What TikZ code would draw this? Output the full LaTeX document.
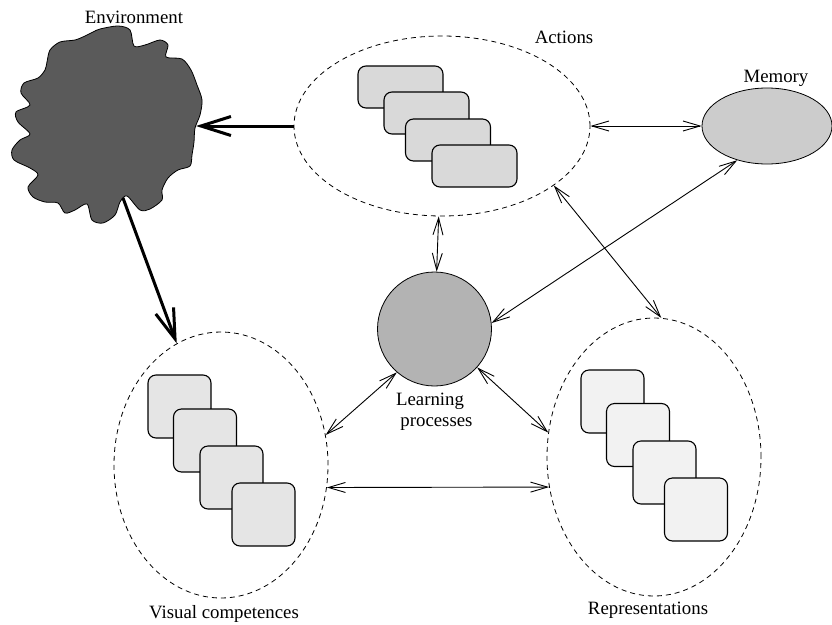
\documentclass[tikz,border=0pt]{standalone}
\usepackage{fontspec}
\setmainfont{Liberation Serif}
\usetikzlibrary{shapes.geometric,arrows.meta}
\definecolor{envgray}{HTML}{5A5A5A}
\definecolor{actgray}{HTML}{D9D9D9}
\definecolor{visgray}{HTML}{E5E5E5}
\definecolor{repgray}{HTML}{F2F2F2}
\definecolor{memgray}{HTML}{CCCCCC}
\definecolor{learngray}{HTML}{B3B3B3}

\begin{document}
\begin{tikzpicture}[x=1pt, y=-1pt, every node/.style={align=center, font=\fontsize{18.8}{21}\selectfont}]
        % styles
        \tikzstyle{group} = [ellipse, draw=black, dash pattern=on 5pt off 4pt, line width=0.8pt, inner sep=0pt]
        \tikzstyle{actbox} = [rectangle, rounded corners=8pt, minimum width=85pt, minimum height=42pt, inner sep=0pt, draw=black, line width=1.1pt, fill=actgray]
        \tikzstyle{visbox} = [rectangle, rounded corners=8pt, minimum width=63pt, minimum height=63pt, inner sep=0pt, draw=black, line width=1.1pt, fill=visgray]
        \tikzstyle{repbox} = [rectangle, rounded corners=8pt, minimum width=63pt, minimum height=63pt, inner sep=0pt, draw=black, line width=1.1pt, fill=repgray]
        \tikzstyle{link} = [line width=0.9pt, {Straight Barb[length=17pt,width=10pt]}-{Straight Barb[length=17pt,width=10pt]}]
        \tikzstyle{bigarrow} = [line width=3pt, -{Straight Barb[length=30pt,width=19pt]}]

        \useasboundingbox (0,0) rectangle (832,624);

        % environment cloud
        \filldraw[fill=envgray, draw=black, line width=0.8pt] plot[smooth cycle] coordinates {
          (100,29) (118,26) (130,30) (134,46) (145,45) (160,40) (168,45) (166,57)
          (182,59) (191,70) (197,85) (202,100) (200,115) (195,128) (194,142) (192,155)
          (190,166) (178,170) (168,178) (162,190) (162,200) (150,209) (140,210) (127,196)
          (120,202) (115,215) (103,223) (92,220) (87,204) (75,210) (65,213) (58,203)
          (45,202) (33,197) (28,187) (38,175) (30,168) (14,160) (12,150) (20,140)
          (30,134) (18,122) (16,112) (30,105) (21,93) (24,83) (38,78) (45,70)
          (47,62) (50,50) (60,42) (75,40) (85,36) (93,32)};
        \coordinate (envE) at (196,126);
        \coordinate (envS) at (123,198);
        \node (envlabel) at (134,17) {Environment};

        % groups
        \node (actions) [group, minimum width=296pt, minimum height=180pt] at (442,126) {};
        \node (visual) [group, minimum width=214pt, minimum height=266pt] at (221,465) {};
        \node (reps) [group, minimum width=214pt, minimum height=278pt] at (654,457) {};
        \node (memory) [ellipse, draw=black, line width=0.8pt, fill=memgray, inner sep=0pt, minimum width=130pt, minimum height=76pt] at (767,126) {};
        \node (learn) [circle, draw=black, line width=0.8pt, fill=learngray, inner sep=0pt, minimum size=114pt] at (434.5,329) {};

        % boxes
        \node (act1) [actbox] at (400.5,87) {};
        \node (act2) [actbox] at (426.5,113) {};
        \node (act3) [actbox] at (448,140) {};
        \node (act4) [actbox] at (474.5,166) {};
        \node (vis1) [visbox] at (179.5,406.5) {};
        \node (vis2) [visbox] at (205,440.5) {};
        \node (vis3) [visbox] at (231.5,477.5) {};
        \node (vis4) [visbox] at (263.5,514.5) {};
        \node (rep1) [repbox] at (612.5,401.5) {};
        \node (rep2) [repbox] at (638,435) {};
        \node (rep3) [repbox] at (664.5,472.5) {};
        \node (rep4) [repbox] at (696,509.5) {};

        % labels
        \node (actlabel) at (564,37) {Actions};
        \node (memlabel) at (776,78) {Memory};
        \node (learnlabel) at (430,412) {Learning\\\hspace{13pt}processes};
        \node (vislabel) at (224,614) {Visual competences};
        \node (replabel) at (648,610) {Representations};

        % connectors
        \draw [bigarrow] (actions.west) -- (envE);
        \draw [bigarrow] (envS) -- (visual.110);
        \draw [link] (actions.east) -- (memory.west);
        \draw [link] (actions) -- (learn);
        \draw [link] (actions.332) -- (reps.87);
        \draw [link] (memory.229) -- (learn.6);
        \draw [link] (learn.229) -- (visual.16);
        \draw [link] (learn.318) -- (reps.167);
        \draw [link] (visual.348) -- (reps.196);
    \end{tikzpicture}
\end{document}
